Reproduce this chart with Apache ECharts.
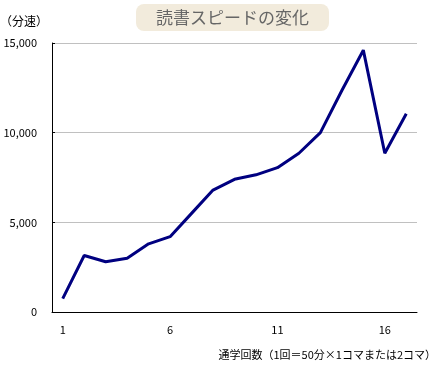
<!DOCTYPE html>
<html><head><meta charset="utf-8">
<script src="https://cdn.jsdelivr.net/npm/echarts@6/dist/echarts.min.js"></script>
<style>html,body{margin:0;padding:0;background:#fff}#c{width:432px;height:368px}</style>
</head><body><div id="c"></div>
<script>
const categories = ['1','2','3','4','5','6','7','8','9','10','11','12','13','14','15','16','17'];
const speed = [750, 3150, 2800, 3000, 3800, 4200, 5500, 6800, 7400, 7650, 8050, 8850, 10000, 12350, 14600, 8850, 11050];
const titleText = '読書スピードの変化';
const yName = '（分速）';
const xName = '通学回数（1回＝50分×1コマまたは2コマ）';
const FONT = '"Noto Sans CJK JP", sans-serif';
const chart = echarts.init(document.getElementById('c'), null, {renderer: 'canvas'});
chart.setOption({
  animation: false,
  title: {
    text: titleText, left: 136, top: 4,
    padding: [5, 20, 5, 20],
    backgroundColor: '#f2ebdc', borderRadius: 8,
    textStyle: {color: '#666', fontSize: 17, fontWeight: 'normal', fontFamily: FONT}
  },
  grid: {left: 52, right: 15, top: 43, bottom: 56, containLabel: false, outerBoundsMode: 'none'},
  xAxis: {
    type: 'category', data: categories, boundaryGap: true,
    name: xName, nameLocation: 'end', nameGap: 19,
    nameTextStyle: {color: '#000', fontSize: 11, fontFamily: FONT, align: 'right', verticalAlign: 'top', padding: [37, 0, 0, 0]},
    axisLine: {lineStyle: {color: '#000', width: 1}},
    axisTick: {inside: true, length: 3, lineStyle: {color: '#000'}, interval: 0},
    axisLabel: {interval: 4, color: '#000', fontSize: 11, fontFamily: FONT, margin: 12}
  },
  yAxis: {
    type: 'value', min: 0, max: 15000, interval: 5000,
    name: yName, nameLocation: 'end', nameGap: 16,
    nameTextStyle: {color: '#000', fontSize: 12, fontFamily: FONT, align: 'right', padding: [0, 4, 0, 0]},
    axisLine: {show: true, lineStyle: {color: '#000', width: 1}},
    axisTick: {show: true, inside: true, length: 3, lineStyle: {color: '#000'}},
    splitLine: {lineStyle: {color: '#c0c0c0', width: 1}},
    axisLabel: {color: '#000', fontSize: 11, fontFamily: FONT, margin: 15,
      formatter: v => v.toLocaleString('en-US')}
  },
  series: [{
    type: 'line', data: speed, symbol: 'none',
    lineStyle: {color: '#000080', width: 3}
  }]
});
</script></body></html>
